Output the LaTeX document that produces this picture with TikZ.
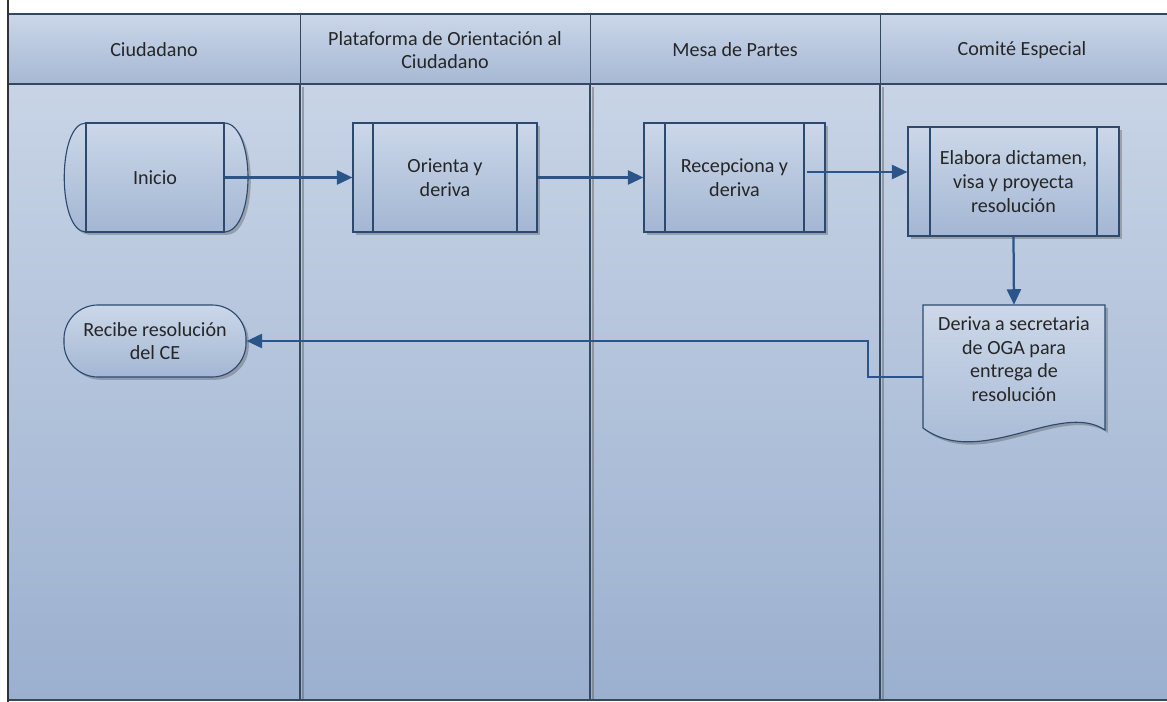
\documentclass[tikz,border=0pt]{standalone}
\usepackage{fontspec}
\setmainfont{Carlito}
\usetikzlibrary{arrows.meta,shadows,calc}
\definecolor{linec}{HTML}{2D4A6E}
\definecolor{lanec}{HTML}{34495F}
\definecolor{arrc}{HTML}{2B5489}
\definecolor{fillt}{HTML}{CCD8E9}
\definecolor{fillb}{HTML}{A3B6D3}
\definecolor{bgt}{HTML}{C8D4E6}
\definecolor{bgb}{HTML}{9BB0CF}
\definecolor{hdt}{HTML}{CBD7E9}
\definecolor{hdb}{HTML}{A6B8D4}
\definecolor{txt}{HTML}{262626}
\begin{document}
\begin{tikzpicture}[x=0.025cm,y=0.025cm,
  lbl/.style={font=\fontsize{14.3}{16.8}\selectfont, text=txt, align=center},
  shadowed/.style={drop shadow={opacity=0.35,shadow xshift=2pt,shadow yshift=-2pt,fill=black!70}},
  boxfill/.style={top color=fillt, bottom color=fillb},
  procbox/.style={lbl, draw=linec, line width=0.8pt, boxfill, shadowed, inner sep=0pt,
    minimum height=2.725cm,
    path picture={\draw[linec,line width=0.8pt]
      ([xshift=#1]path picture bounding box.north west) -- ([xshift=#1]path picture bounding box.south west)
      ([xshift=-#1]path picture bounding box.north east) -- ([xshift=-#1]path picture bounding box.south east);}},
  arr/.style={draw=arrc, line width=1.6pt, -{Triangle[length=11pt,width=10pt]}},
  lane/.style={draw=lanec, line width=1pt},
  hdr/.style={lbl, minimum width=7cm, minimum height=1.75cm}
]
\useasboundingbox (0,0) rectangle (1167,-702);
% background
\fill[white] (0,0) rectangle (1167,-702);
\fill[top color=hdt, bottom color=hdb] (8,-14) rectangle (1167,-84);
\fill[top color=bgt, bottom color=bgb] (8,-84) rectangle (1167,-700);
% lane shadows
\foreach \xx in {300,590,880}{
  \draw[black!60, line width=2pt, opacity=0.5] (\xx+3,-87) -- (\xx+3,-700);
  \draw[lane] (\xx,-84) -- (\xx,-700);
  \draw[lane, line width=0.7pt] (\xx,-14) -- (\xx,-84);
}
\draw[lane] (8,-14) -- (1167,-14);
\draw[lane] (8,-84) -- (1167,-84);
\draw[lane] (8,-700) -- (1167,-700);
\draw[black!80, line width=1.2pt] (8,0) -- (8,-702);
% headers
\node[hdr] (h1) at (154,-50) {Ciudadano};
\node[hdr] (h2) at (445,-50) {Plataforma de Orientación al\\Ciudadano};
\node[hdr] (h3) at (735,-50) {Mesa de Partes};
\node[hdr] (h4) at (1022,-50) {Comité Especial};
% Inicio
\path[draw=linec, line width=0.8pt, boxfill, shadowed]
  (86,-123) -- (224,-123) .. controls (256,-123) and (256,-232) .. (224,-232)
  -- (86,-232) .. controls (57,-232) and (57,-123) .. (86,-123) -- cycle;
\node[lbl, draw=linec, line width=0.8pt, minimum width=3.45cm, minimum height=2.725cm, inner sep=0pt] (inicio) at (155,-177.5) {Inicio};
% processes
\node[procbox=0.5cm, minimum width=4.6cm] (orienta) at (445,-177.5) {Orienta y\\deriva};
\node[procbox=0.525cm, minimum width=4.525cm] (recep) at (734.5,-177.5) {Recepciona y\\deriva};
\node[procbox=0.55cm, minimum width=5.275cm] (elab) at (1013.5,-181.5) {Elabora dictamen,\\visa y proyecta\\resolución};
% document
\path[draw=linec, line width=0.8pt, boxfill, shadowed]
  (923,-305) -- (1105,-305) -- (1105,-430)
  .. controls (1060,-400) and (980,-470) .. (923,-428) -- cycle;
\node[lbl, minimum width=4.55cm, minimum height=2.7cm, inner sep=0pt] (doc) at (1014,-359)
  {Deriva a secretaria\\de OGA para\\entrega de\\resolución};
% recibe
\node[lbl, draw=linec, line width=0.8pt, boxfill, shadowed, rounded corners=0.85cm,
  minimum width=4.55cm, minimum height=1.8cm, inner sep=0pt] (recibe) at (155,-341)
  {Recibe resolución\\del CE};
% connectors
\draw[arr] (inicio.east) -- (orienta.west);
\draw[arr] (orienta.east) -- (recep.west);
\draw[arr] ([shift={(-19,5.5)}]recep.east) coordinate (a3) -- (a3 -| elab.west);
\draw[arr] (elab.south) -- (doc.north);
\draw[arr] ([yshift=-0.45cm]doc.west) -- ++(-55,0) |- (recibe.east);
\end{tikzpicture}
\end{document}
